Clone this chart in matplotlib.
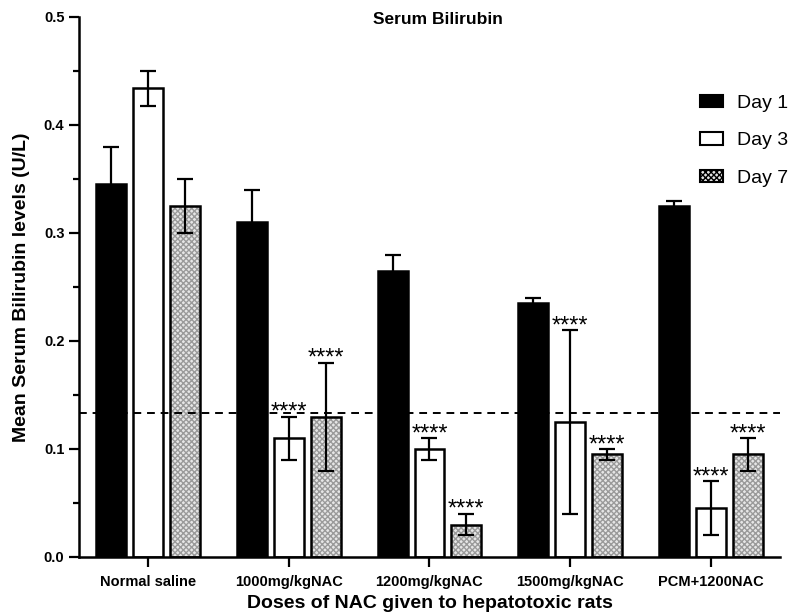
import matplotlib
matplotlib.use("Agg")
import matplotlib.pyplot as plt
from matplotlib.patches import Patch
import numpy as np

plt.rcParams['font.family'] = ['Liberation Sans', 'DejaVu Sans']

groups = ["Normal saline", "1000mg/kgNAC", "1200mg/kgNAC", "1500mg/kgNAC", "PCM+1200NAC"]
series_names = ["Day 1", "Day 3", "Day 7"]

day1 = [0.345, 0.310, 0.265, 0.235, 0.325]
day1_err = [0.035, 0.030, 0.015, 0.005, 0.005]
day3 = [0.434, 0.110, 0.100, 0.125, 0.045]
day3_err = [0.016, 0.020, 0.010, 0.085, 0.025]
day7 = [0.325, 0.130, 0.030, 0.095, 0.095]
day7_err = [0.025, 0.050, 0.010, 0.005, 0.015]

# significance flags (1 = "****")
day3_sig = [0, 1, 1, 1, 1]
day7_sig = [0, 1, 1, 1, 1]

reference_line = 0.133

fig = plt.figure(figsize=(7.89, 6.13), dpi=100)
ax = fig.add_axes([79/789, 1 - 557/613, (780-79)/789, (557-17)/613])

x = np.arange(len(groups))
w = 0.213
off = 0.262
lw = 1.8

ebkw = dict(ecolor='black', elinewidth=1.6, capsize=5.5, capthick=1.6)

ax.bar(x - off, day1, w, color='black', edgecolor='black', linewidth=lw, zorder=2)
ax.errorbar(x - off, day1, yerr=day1_err, fmt='none', zorder=1, **ebkw)

ax.bar(x, day3, w, color='white', edgecolor='black', linewidth=lw, zorder=2)
ax.errorbar(x, day3, yerr=day3_err, fmt='none', zorder=3, **ebkw)

ax.bar(x + off, day7, w, color='#e6e6e6', edgecolor='#9a9a9a', hatch='xxxxxx', linewidth=0, zorder=2)
ax.bar(x + off, day7, w, fill=False, edgecolor='black', linewidth=lw, zorder=2.5)
ax.errorbar(x + off, day7, yerr=day7_err, fmt='none', zorder=3, **ebkw)

for xs, vals, errs, sigs in [(x, day3, day3_err, day3_sig), (x + off, day7, day7_err, day7_sig)]:
    for xi, v, e, s in zip(xs, vals, errs, sigs):
        if s:
            ax.annotate("****", (xi, v + e), xytext=(0, -1.5), textcoords='offset points',
                        ha='center', va='baseline', fontsize=17)

ax.axhline(reference_line, color='black', linestyle=(0, (4, 3)), linewidth=1.4, zorder=4)

ax.set_xlim(-0.49, 4.49)
ax.set_ylim(0, 0.5)
ax.set_yticks(np.arange(0, 0.51, 0.1))
ax.set_yticks(np.arange(0.05, 0.5, 0.1), minor=True)
ax.set_yticklabels([f"{v:.1f}" for v in np.arange(0, 0.51, 0.1)], fontsize=10.5, fontweight='bold')
ax.set_xticks(x)
ax.set_xticklabels(groups, fontsize=10.5, fontweight='bold')
ax.tick_params(axis='y', which='major', length=7, width=1.6)
ax.tick_params(axis='y', which='minor', length=4, width=1.6)
ax.tick_params(axis='x', length=7, width=1.6, pad=6)

for s in ['top', 'right']:
    ax.spines[s].set_visible(False)
for s in ['left', 'bottom']:
    ax.spines[s].set_linewidth(1.8)

ax.set_ylabel("Mean Serum Bilirubin levels (U/L)", fontsize=14, fontweight='bold', labelpad=10)
ax.set_xlabel("Doses of NAC given to hepatotoxic rats", fontsize=14, fontweight='bold', labelpad=4)
fig.text(438/789, 1 - 20/613, "Serum Bilirubin", ha='center', va='center', fontsize=12.5, fontweight='bold')

handles = [
    Patch(facecolor='black', edgecolor='black', linewidth=1.5),
    Patch(facecolor='white', edgecolor='black', linewidth=1.5),
    Patch(facecolor='#e6e6e6', edgecolor='black', hatch='xxxxxx', linewidth=1.5),
]
fig.legend(handles, series_names, loc='upper left', bbox_to_anchor=(700/789, 1 - 95/613),
           frameon=False, fontsize=14, handlelength=1.2, handleheight=0.6,
           labelspacing=1.05, handletextpad=0.7, borderaxespad=0, borderpad=0)

fig.savefig("out.png", dpi=100)
